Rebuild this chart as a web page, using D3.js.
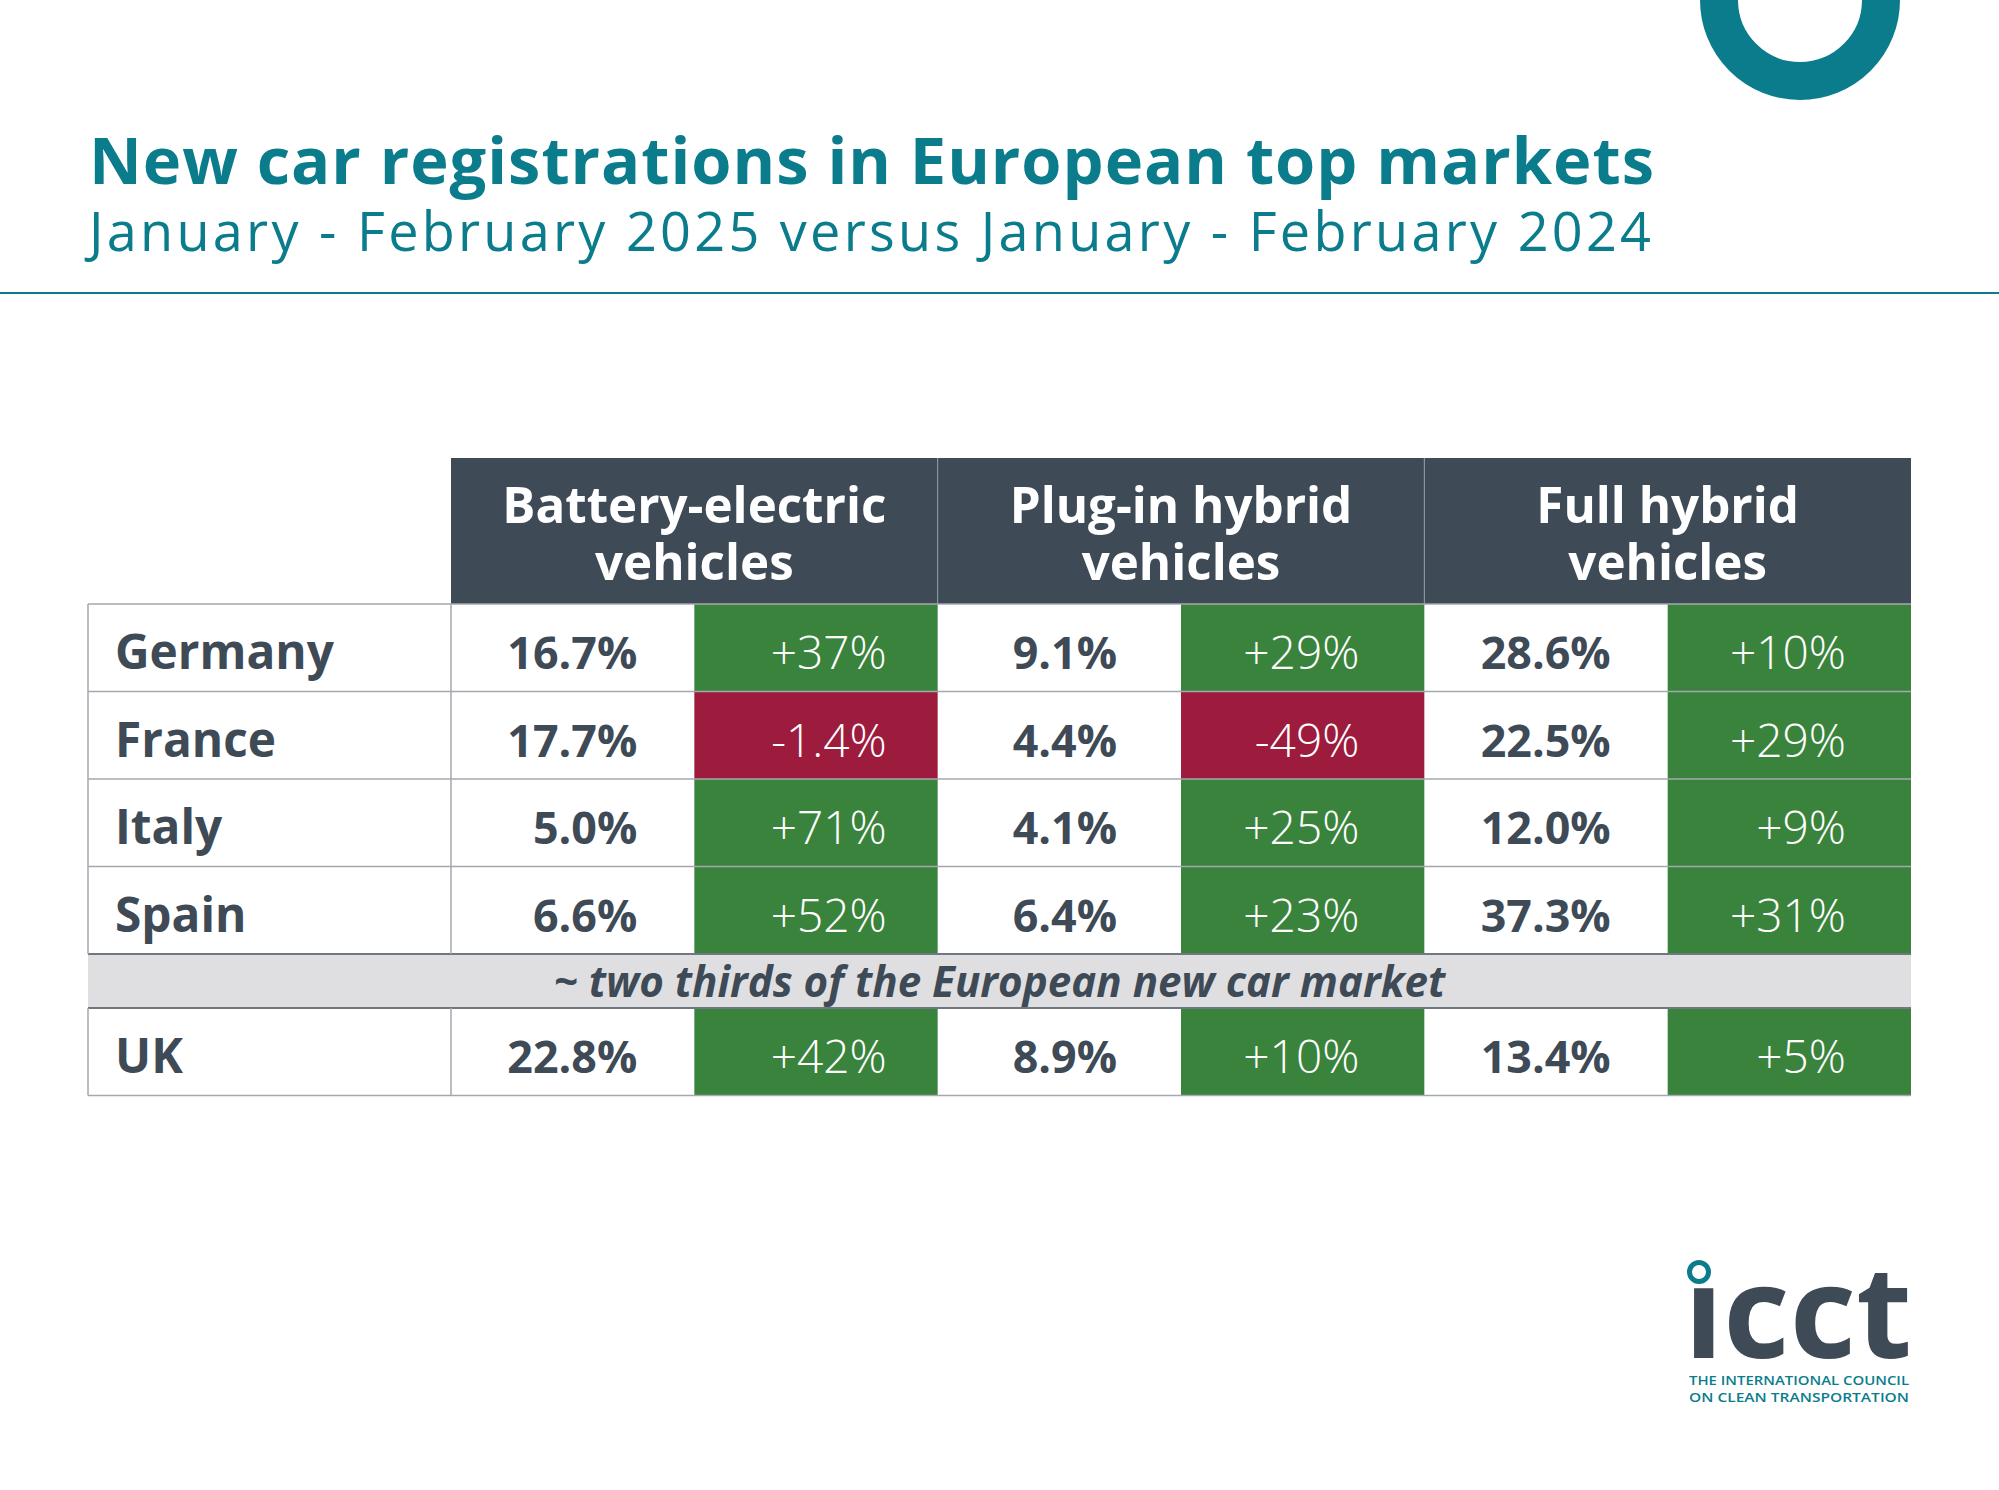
<!DOCTYPE html>
<html>
<head>
<meta charset="utf-8">
<script src="https://cdn.jsdelivr.net/npm/d3@7"></script>
<style>
  html, body { margin: 0; padding: 0; background: #fff; }
  svg { display: block; font-family: "Open Sans", "DejaVu Sans", sans-serif; }
</style>
</head>
<body>
<svg id="chart" width="1999" height="1490"></svg>
<script>
// ---------------- DATA ----------------
const titleText = "New car registrations in European top markets";
const subtitleText = "January - February 2025 versus January - February 2024";
const countries = ["Germany", "France", "Italy", "Spain"];
const extraCountry = ["UK"];
const noteText = "~ two thirds of the European new car market";
const segments = ["BEV", "PHEV", "HEV"];
const segmentLine1 = ["Battery-electric", "Plug-in hybrid", "Full hybrid"];
const segmentLine2 = ["vehicles", "vehicles", "vehicles"];
// shares (%) of new registrations, Jan-Feb 2025, order: Germany, France, Italy, Spain, UK
const bevShare   = [16.7, 17.7, 5.0, 6.6, 22.8];
const bevChange  = [37, -1.4, 71, 52, 42];
const phevShare  = [9.1, 4.4, 4.1, 6.4, 8.9];
const phevChange = [29, -49, 25, 23, 10];
const hevShare   = [28.6, 22.5, 12.0, 37.3, 13.4];
const hevChange  = [10, 29, 9, 31, 5];
const logoWord = "\u0131cct";
const logoLine1 = "THE INTERNATIONAL COUNCIL";
const logoLine2 = "ON CLEAN TRANSPORTATION";

// ---------------- STYLE ----------------
const TEAL = "#0a7c8c";
const SLATE = "#3e4a56";
const GREEN = "#3a833c";
const RED = "#9d1b3d";
const GRID = "#a3a9ae";

const svg = d3.select("#chart");

// helper: scale font size so that the text hits a target width
function fitWidth(sel, target) {
  const node = sel.node();
  const fs = parseFloat(sel.attr("font-size"));
  const w = node.getComputedTextLength();
  const nfs = fs * target / w;
  sel.attr("font-size", nfs);
  return nfs;
}
// helper: keep font size, adjust letter spacing to hit a target width
function fitSpacing(sel, target) {
  const node = sel.node();
  const w = node.getComputedTextLength();
  const n = sel.text().length;
  sel.attr("letter-spacing", (target - w) / Math.max(1, n - 1));
}

// ---------------- DECOR ----------------
svg.append("circle")
  .attr("cx", 1800).attr("cy", 0).attr("r", 81)
  .attr("fill", "none").attr("stroke", TEAL).attr("stroke-width", 38);

const title = svg.append("text")
  .attr("x", 89).attr("y", 184)
  .attr("font-size", 65).attr("font-weight", 700)
  .attr("fill", TEAL).text(titleText);
fitSpacing(title, 1565);

const subtitle = svg.append("text")
  .attr("x", 89).attr("y", 251)
  .attr("font-size", 54).attr("font-weight", 400)
  .attr("fill", TEAL).text(subtitleText);
fitSpacing(subtitle, 1562);

svg.append("line")
  .attr("x1", 0).attr("x2", 1999).attr("y1", 293).attr("y2", 293)
  .attr("stroke", TEAL).attr("stroke-width", 2);

// ---------------- TABLE LAYOUT ----------------
const tableLeft = 88, labelRight = 451, tableRight = 1911;
const headerTop = 458, headerBottom = 604;
const x = d3.scaleBand().domain(segments).range([labelRight, tableRight]);
const sub = d3.scaleBand().domain(["share", "change"]).range([0, x.bandwidth()]);
const yMain = d3.scaleBand().domain(countries).range([headerBottom, 954]);
const noteTop = 954, noteBottom = 1008;
const yExtra = d3.scaleBand().domain(extraCountry).range([1008, 1096]);

const allRows = countries.concat(extraCountry);
const rowTop = c => countries.includes(c) ? yMain(c) : yExtra(c);
const rowH = yMain.bandwidth();

const shares = { BEV: bevShare, PHEV: phevShare, HEV: hevShare };
const changes = { BEV: bevChange, PHEV: phevChange, HEV: hevChange };
const sharePad = { BEV: 57, PHEV: 64, HEV: 57 };
const changePad = { BEV: 51, PHEV: 65, HEV: 65 };

const fmtShare = v => v.toFixed(1) + "%";
const fmtChange = v => (v > 0 ? "+" : "") + (Number.isInteger(v) ? v.toFixed(0) : v.toFixed(1)) + "%";

// header background
svg.append("rect")
  .attr("x", labelRight).attr("y", headerTop)
  .attr("width", tableRight - labelRight).attr("height", headerBottom - headerTop)
  .attr("fill", SLATE);

// cells
const cells = [];
allRows.forEach((c, i) => {
  segments.forEach(s => {
    cells.push({ row: c, i, seg: s, share: shares[s][i], change: changes[s][i] });
  });
});

const cellG = svg.append("g");
cellG.selectAll("rect.chg").data(cells).join("rect")
  .attr("class", "chg")
  .attr("x", d => x(d.seg) + sub("change"))
  .attr("y", d => rowTop(d.row))
  .attr("width", sub.bandwidth())
  .attr("height", rowH)
  .attr("fill", d => d.change >= 0 ? GREEN : RED);

// note row
svg.append("rect")
  .attr("x", tableLeft).attr("y", noteTop)
  .attr("width", tableRight - tableLeft).attr("height", noteBottom - noteTop)
  .attr("fill", "#dfdfe1");

// grid lines: horizontal between rows
const hLines = [];
countries.forEach(c => hLines.push(yMain(c)));
hLines.push(yExtra("UK") + rowH);
svg.append("g").selectAll("line").data(hLines).join("line")
  .attr("x1", tableLeft).attr("x2", tableRight)
  .attr("y1", d => d).attr("y2", d => d)
  .attr("stroke", GRID).attr("stroke-width", 1.5);
// note row borders
svg.append("g").selectAll("line").data([noteTop, noteBottom]).join("line")
  .attr("x1", tableLeft).attr("x2", tableRight)
  .attr("y1", d => d).attr("y2", d => d)
  .attr("stroke", "#6f7780").attr("stroke-width", 2);
// vertical lines in body
[[headerBottom, noteTop], [noteBottom, yExtra("UK") + rowH]].forEach(([a, b]) => {
  svg.append("g").selectAll("line").data([tableLeft, labelRight]).join("line")
    .attr("x1", d => d).attr("x2", d => d).attr("y1", a).attr("y2", b)
    .attr("stroke", GRID).attr("stroke-width", 1.5);
});
// header dividers
svg.append("g").selectAll("line").data(segments.slice(1)).join("line")
  .attr("x1", d => x(d)).attr("x2", d => x(d))
  .attr("y1", headerTop).attr("y2", headerBottom)
  .attr("stroke", "#9aa3ab").attr("stroke-width", 1);

// header texts
const h1 = svg.append("g").selectAll("text").data(segments).join("text")
  .attr("x", d => x(d) + x.bandwidth() / 2).attr("y", 523)
  .attr("text-anchor", "middle").attr("font-size", 48).attr("font-weight", 700)
  .attr("fill", "#fff").text((d, i) => segmentLine1[i]);
const hs = fitWidth(d3.select(h1.nodes()[0]), 384);
h1.attr("font-size", hs);
svg.append("g").selectAll("text").data(segments).join("text")
  .attr("x", d => x(d) + x.bandwidth() / 2).attr("y", 580)
  .attr("text-anchor", "middle").attr("font-size", hs).attr("font-weight", 700)
  .attr("fill", "#fff").text((d, i) => segmentLine2[i]);

// row labels
const labels = svg.append("g").selectAll("text").data(allRows).join("text")
  .attr("x", 115).attr("y", d => rowTop(d) + 65)
  .attr("font-size", 48).attr("font-weight", 700)
  .attr("fill", SLATE).text(d => d);
const ls = fitWidth(d3.select(labels.nodes()[0]), 219);
labels.attr("font-size", ls);

// share values
const sv = cellG.selectAll("text.share").data(cells).join("text")
  .attr("class", "share")
  .attr("x", d => x(d.seg) + sub("share") + sub.bandwidth() - sharePad[d.seg])
  .attr("y", d => rowTop(d.row) + 65)
  .attr("text-anchor", "end").attr("font-size", 48).attr("font-weight", 700)
  .attr("fill", SLATE).text(d => fmtShare(d.share));
const ss = fitWidth(d3.select(sv.nodes()[0]), 130);
sv.attr("font-size", ss);

// change values
const cv = cellG.selectAll("text.chgt").data(cells).join("text")
  .attr("class", "chgt")
  .attr("x", d => x(d.seg) + sub("change") + sub.bandwidth() - changePad[d.seg])
  .attr("y", d => rowTop(d.row) + 65)
  .attr("text-anchor", "end").attr("font-size", 48).attr("font-weight", 300)
  .attr("fill", "#fff").text(d => fmtChange(d.change));
const cs = fitWidth(d3.select(cv.nodes()[0]), 116);
cv.attr("font-size", cs);

// note text
const note = svg.append("text")
  .attr("x", (tableLeft + tableRight) / 2).attr("y", 997)
  .attr("text-anchor", "middle").attr("font-size", 38).attr("font-weight", 700)
  .attr("font-style", "italic").attr("fill", SLATE).text(noteText);
fitWidth(note, 892);

// ---------------- LOGO ----------------
svg.append("text")
  .attr("x", 1684).attr("y", 1358)
  .attr("font-size", 128).attr("font-weight", 700)
  .attr("fill", SLATE)
  .attr("textLength", 228).attr("lengthAdjust", "spacingAndGlyphs")
  .text(logoWord);
svg.append("circle")
  .attr("cx", 1699).attr("cy", 1272).attr("r", 9.5)
  .attr("fill", "none").attr("stroke", TEAL).attr("stroke-width", 5);
svg.append("text")
  .attr("x", 1689).attr("y", 1385)
  .attr("font-size", 12).attr("font-weight", 600).attr("fill", TEAL)
  .attr("textLength", 220).attr("lengthAdjust", "spacingAndGlyphs")
  .text(logoLine1);
svg.append("text")
  .attr("x", 1689).attr("y", 1402)
  .attr("font-size", 12).attr("font-weight", 600).attr("fill", TEAL)
  .attr("textLength", 220).attr("lengthAdjust", "spacingAndGlyphs")
  .text(logoLine2);
</script>
</body>
</html>
